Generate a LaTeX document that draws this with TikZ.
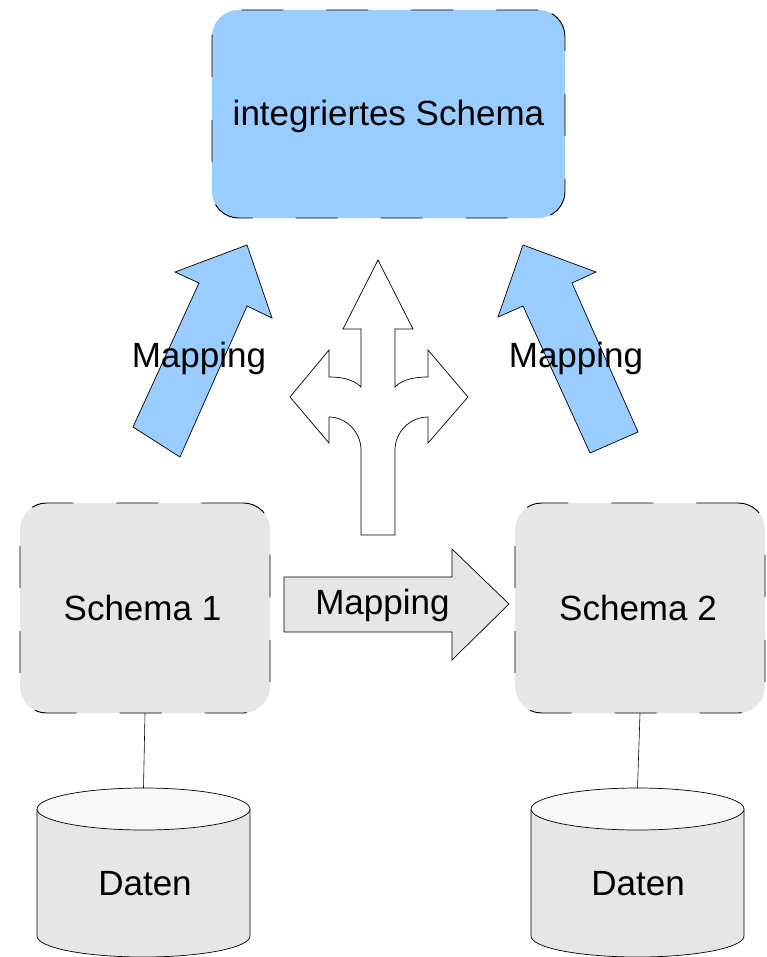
\documentclass[tikz,border=0pt]{standalone}
\usepackage{fontspec}
\setmainfont{Liberation Sans}
\usetikzlibrary{calc}

\definecolor{schemaBlue}{HTML}{99CCFF}
\definecolor{schemaGray}{HTML}{E6E6E6}
\definecolor{lidGray}{HTML}{F8F8F8}

\tikzset{
    schemaBox/.style={draw, line width=0.8pt, dash pattern=on 1.26cm off 1.29cm, rounded corners=0.8cm},
    mappingArrow/.style={draw, line width=0.6pt, line join=miter},
    bigText/.style={font=\fontsize{29.9}{36}\selectfont, inner sep=0pt, anchor=base},
}

\begin{document}
\begin{tikzpicture}[x=0.03cm, y=-0.03cm]
        \useasboundingbox (0,0) rectangle (767,957);
        % schemas
        \node [schemaBox, fill=schemaBlue, minimum width=10.59cm, minimum height=6.24cm] (intSchema) at (388.5,114) {};
        \node [bigText] (intSchemaText) at (388.5,126) {integriertes Schema};
        \node [schemaBox, fill=schemaGray, minimum width=7.5cm, minimum height=6.3cm] (schemaOne) at (145,608) {};
        \node [bigText] (schemaOneText) at (142.5,620) {Schema 1};
        \node [schemaBox, fill=schemaGray, minimum width=7.5cm, minimum height=6.3cm] (schemaTwo) at (640,608) {};
        \node [bigText] (schemaTwoText) at (638,620) {Schema 2};
        % data stores
        \coordinate (datenOneTop) at (143.5,788);
        \draw [fill=schemaGray, line width=0.6pt] (37,809) -- (37,936)
            arc [start angle=180, end angle=360, x radius=3.195cm, y radius=0.63cm] -- (250,809);
        \draw [fill=lidGray, line width=0.6pt] (143.5,809) ellipse [x radius=3.195cm, y radius=0.63cm];
        \node [bigText] (datenOne) at (145,895) {Daten};
        \coordinate (datenTwoTop) at (637.5,788);
        \draw [fill=schemaGray, line width=0.6pt] (531,809) -- (531,936)
            arc [start angle=180, end angle=360, x radius=3.195cm, y radius=0.63cm] -- (744,809);
        \draw [fill=lidGray, line width=0.6pt] (637.5,809) ellipse [x radius=3.195cm, y radius=0.63cm];
        \node [bigText] (datenTwo) at (638,895) {Daten};
        \draw [line width=0.5pt] (schemaOne.south) -- (datenOneTop);
        \draw [line width=0.5pt] (schemaTwo.south) -- (datenTwoTop);
        % mapping schema 1 -> schema 2
        \draw [mappingArrow, fill=schemaGray] (284,577) -- (452,577) -- (452,549) -- (509,604)
            -- (452,660) -- (452,632) -- (284,632) -- cycle;
        \node [bigText] (mapMid) at (382.5,614) {Mapping};
        % mappings up to the integrated schema
        \draw [mappingArrow, fill=schemaBlue] (247,245) -- (272,318) -- (247,306) -- (180,457)
            -- (133,427) -- (199,283) -- (175,272) -- cycle;
        \node [bigText] (mapLeft) at (199,367) {Mapping};
        \draw [mappingArrow, fill=schemaBlue] (523,245) -- (596,272) -- (572,283) -- (638,432)
            -- (590,453) -- (523,306) -- (498,317) -- cycle;
        \node [bigText] (mapRight) at (576,367) {Mapping};
        % three way split
        \draw [mappingArrow, fill=white] (378,260) -- (413,329) -- (395,329) -- (395,387)
            .. controls (403,379) and (415,377) .. (428,377) -- (428,350) -- (468,397) -- (428,443)
            -- (428,417) .. controls (410,417) and (395,432) .. (395,450) -- (395,535) -- (361,535)
            -- (361,450) .. controls (361,432) and (346,417) .. (329,417) -- (329,443) -- (290,397)
            -- (329,350) -- (329,377) .. controls (341,377) and (353,379) .. (361,387) -- (361,329)
            -- (343,329) -- cycle;
\end{tikzpicture}
\end{document}
